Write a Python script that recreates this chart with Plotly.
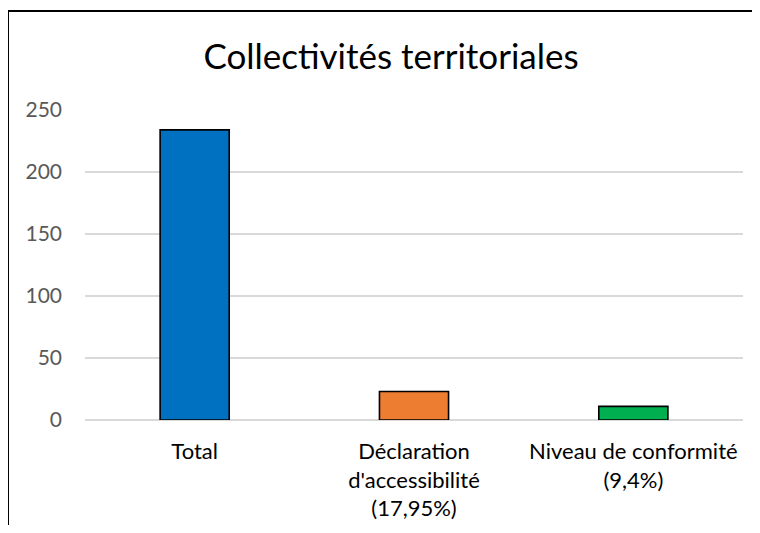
import plotly.graph_objects as go

categories = ["Total", "Déclaration<br>d'accessibilité<br>(17,95%)", "Niveau de conformité<br>(9,4%)"]
values = [234, 23, 11]
colors = ["#0070C0", "#ED7D31", "#00B050"]
title_text = "Collectivités territoriales"
y_ticks = [0, 50, 100, 150, 200, 250]

# page body has an 8px margin on every side; keep the page within the window
OFF = 8
W, H = 760 - 2 * OFF, 533 - 2 * OFF
L = 85 - OFF
R = (760 - OFF) - 743
T = 110 - OFF
B = (533 - OFF) - 420
pw, ph = W - L - R, H - T - B


def px_x(px):  # window pixel -> paper x
    return (px - OFF - L) / pw


def px_y(py):  # window pixel -> paper y
    return (H - B - (py - OFF)) / ph


fig = go.Figure(go.Bar(
    x=categories, y=values,
    marker=dict(color=colors, line=dict(color="#000000", width=1.6)),
    width=0.315,
))

frame = dict(color="#000000", width=2)
fig.update_layout(
    template="none",
    width=W, height=H,
    margin=dict(l=L, r=R, t=T, b=B, pad=0),
    paper_bgcolor="white", plot_bgcolor="white",
    showlegend=False,
    title=dict(text=title_text, x=px_x(391), xref="paper", xanchor="center",
               y=1 - (57 - OFF) / H, yanchor="middle",
               font=dict(family="Lato", size=35, color="#000000")),
    font=dict(family="Lato"),
    xaxis=dict(showgrid=False, showline=False, ticks="", zeroline=False,
               automargin=False, ticklabelstandoff=16,
               tickfont=dict(family="Lato", size=22, color="#000000")),
    yaxis=dict(range=[0, 250], tickvals=y_ticks, showgrid=True, gridcolor="#D9D9D9",
               gridwidth=1.5, zeroline=True, zerolinecolor="#D9D9D9", zerolinewidth=1.5,
               showline=False, ticks="", ticklabelstandoff=22, automargin=False,
               tickfont=dict(family="Lato", size=21, color="#595959")),
    shapes=[
        dict(type="line", xref="paper", yref="paper",
             x0=px_x(8), x1=px_x(8), y0=px_y(620), y1=px_y(11), line=frame, layer="above"),
        dict(type="line", xref="paper", yref="paper",
             x0=px_x(8), x1=px_x(820), y0=px_y(11), y1=px_y(11), line=frame, layer="above"),
    ],
)

fig.write_html("out.html")
